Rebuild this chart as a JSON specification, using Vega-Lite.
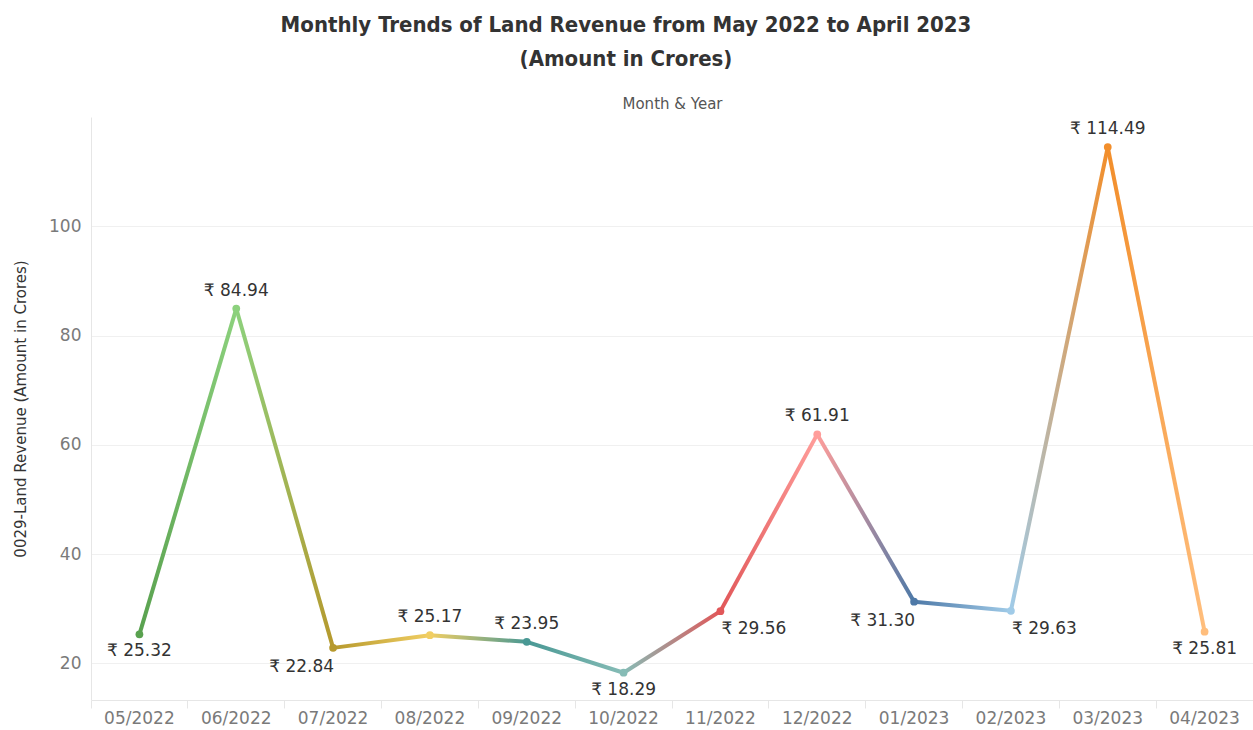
{
  "$schema": "https://vega.github.io/schema/vega-lite/v6.json",
  "width": 1162,
  "height": 583,
  "autosize": {"type": "none"},
  "padding": {"left": 91, "top": 117, "right": 0, "bottom": 30},
  "background": "white",
  "config": {"view": {"stroke": null}, "font": "DejaVu Sans"},
  "title": {
    "text": ["Monthly Trends of Land Revenue from May 2022 to April 2023", "(Amount in Crores)"],
    "font": "DejaVu Sans Condensed, Liberation Sans Narrow, Roboto",
    "fontWeight": "bold",
    "fontSize": 22,
    "lineHeight": 34,
    "color": "#333333",
    "anchor": "middle",
    "frame": "group",
    "dx": -46,
    "offset": 25
  },
  "data": {
    "values": [
      {"month": "05/2022", "value": 25.32},
      {"month": "06/2022", "value": 84.94},
      {"month": "07/2022", "value": 22.84},
      {"month": "08/2022", "value": 25.17},
      {"month": "09/2022", "value": 23.95},
      {"month": "10/2022", "value": 18.29},
      {"month": "11/2022", "value": 29.56},
      {"month": "12/2022", "value": 61.91},
      {"month": "01/2023", "value": 31.30},
      {"month": "02/2023", "value": 29.63},
      {"month": "03/2023", "value": 114.49},
      {"month": "04/2023", "value": 25.81}
    ]
  },
  "transform": [
    {"calculate": "'₹ ' + format(datum.value, '.2f')", "as": "label"}
  ],
  "encoding": {
    "x": {"field": "month", "type": "nominal", "sort": null,
      "scale": {"type": "band", "paddingInner": 0, "paddingOuter": 0}},
    "y": {"field": "value", "type": "quantitative",
      "scale": {"domain": [13.3, 120], "nice": false, "zero": false}}
  },
  "layer": [
    {"transform": [{"filter": {"field": "month", "oneOf": ["05/2022", "06/2022"]}}],
     "mark": {"type": "line", "strokeWidth": 4, "stroke": {"gradient": "linear", "x1": 0, "y1": 0, "x2": 1, "y2": 0, "stops": [{"offset": 0, "color": "#59a14f"}, {"offset": 1, "color": "#8cd17d"}]}},
     "encoding": {"x": {"field": "month", "type": "nominal", "sort": null, "axis": null}}},
    {"transform": [{"filter": {"field": "month", "oneOf": ["06/2022", "07/2022"]}}],
     "mark": {"type": "line", "strokeWidth": 4, "stroke": {"gradient": "linear", "x1": 0, "y1": 0, "x2": 1, "y2": 0, "stops": [{"offset": 0, "color": "#8cd17d"}, {"offset": 1, "color": "#b6992d"}]}},
     "encoding": {"x": {"field": "month", "type": "nominal", "sort": null, "axis": null}}},
    {"transform": [{"filter": {"field": "month", "oneOf": ["07/2022", "08/2022"]}}],
     "mark": {"type": "line", "strokeWidth": 4, "stroke": {"gradient": "linear", "x1": 0, "y1": 0, "x2": 1, "y2": 0, "stops": [{"offset": 0, "color": "#b6992d"}, {"offset": 1, "color": "#f1ce63"}]}},
     "encoding": {"x": {"field": "month", "type": "nominal", "sort": null, "axis": null}}},
    {"transform": [{"filter": {"field": "month", "oneOf": ["08/2022", "09/2022"]}}],
     "mark": {"type": "line", "strokeWidth": 4, "stroke": {"gradient": "linear", "x1": 0, "y1": 0, "x2": 1, "y2": 0, "stops": [{"offset": 0, "color": "#f1ce63"}, {"offset": 1, "color": "#499894"}]}},
     "encoding": {"x": {"field": "month", "type": "nominal", "sort": null, "axis": null}}},
    {"transform": [{"filter": {"field": "month", "oneOf": ["09/2022", "10/2022"]}}],
     "mark": {"type": "line", "strokeWidth": 4, "stroke": {"gradient": "linear", "x1": 0, "y1": 0, "x2": 1, "y2": 0, "stops": [{"offset": 0, "color": "#499894"}, {"offset": 1, "color": "#86bcb6"}]}},
     "encoding": {"x": {"field": "month", "type": "nominal", "sort": null, "axis": null}}},
    {"transform": [{"filter": {"field": "month", "oneOf": ["10/2022", "11/2022"]}}],
     "mark": {"type": "line", "strokeWidth": 4, "stroke": {"gradient": "linear", "x1": 0, "y1": 0, "x2": 1, "y2": 0, "stops": [{"offset": 0, "color": "#86bcb6"}, {"offset": 1, "color": "#e15759"}]}},
     "encoding": {"x": {"field": "month", "type": "nominal", "sort": null, "axis": null}}},
    {"transform": [{"filter": {"field": "month", "oneOf": ["11/2022", "12/2022"]}}],
     "mark": {"type": "line", "strokeWidth": 4, "stroke": {"gradient": "linear", "x1": 0, "y1": 0, "x2": 1, "y2": 0, "stops": [{"offset": 0, "color": "#e15759"}, {"offset": 1, "color": "#ff9d9a"}]}},
     "encoding": {"x": {"field": "month", "type": "nominal", "sort": null, "axis": null}}},
    {"transform": [{"filter": {"field": "month", "oneOf": ["12/2022", "01/2023"]}}],
     "mark": {"type": "line", "strokeWidth": 4, "stroke": {"gradient": "linear", "x1": 0, "y1": 0, "x2": 1, "y2": 0, "stops": [{"offset": 0, "color": "#ff9d9a"}, {"offset": 1, "color": "#4e79a7"}]}},
     "encoding": {"x": {"field": "month", "type": "nominal", "sort": null, "axis": null}}},
    {"transform": [{"filter": {"field": "month", "oneOf": ["01/2023", "02/2023"]}}],
     "mark": {"type": "line", "strokeWidth": 4, "stroke": {"gradient": "linear", "x1": 0, "y1": 0, "x2": 1, "y2": 0, "stops": [{"offset": 0, "color": "#4e79a7"}, {"offset": 1, "color": "#a0cbe8"}]}},
     "encoding": {"x": {"field": "month", "type": "nominal", "sort": null, "axis": null}}},
    {"transform": [{"filter": {"field": "month", "oneOf": ["02/2023", "03/2023"]}}],
     "mark": {"type": "line", "strokeWidth": 4, "stroke": {"gradient": "linear", "x1": 0, "y1": 0, "x2": 1, "y2": 0, "stops": [{"offset": 0, "color": "#a0cbe8"}, {"offset": 1, "color": "#f28e2b"}]}},
     "encoding": {"x": {"field": "month", "type": "nominal", "sort": null, "axis": null}}},
    {"transform": [{"filter": {"field": "month", "oneOf": ["03/2023", "04/2023"]}}],
     "mark": {"type": "line", "strokeWidth": 4, "stroke": {"gradient": "linear", "x1": 0, "y1": 0, "x2": 1, "y2": 0, "stops": [{"offset": 0, "color": "#f28e2b"}, {"offset": 1, "color": "#ffbe7d"}]}},
     "encoding": {"x": {"field": "month", "type": "nominal", "sort": null, "axis": null}}},
    {
      "mark": {"type": "point", "filled": true, "opacity": 1, "size": 60},
      "encoding": {
        "x": {"field": "month", "type": "nominal", "sort": null,
          "axis": {"orient": "bottom", "title": null, "labelAngle": 0, "bandPosition": 0,
            "ticks": true, "tickSize": 8, "tickColor": "#e6e6e6", "domainColor": "#e6e6e6",
            "labelFontSize": 17, "labelColor": "#7a7a7a", "labelPadding": 2, "labelFont": "DejaVu Sans", "grid": false}},
        "y": {"field": "value", "type": "quantitative",
          "axis": {"title": "0029-Land Revenue (Amount in Crores)", "titleFontSize": 15, "titleFontWeight": "normal",
            "titleColor": "#333333", "titleFont": "DejaVu Sans", "titlePadding": 20,
            "values": [20, 40, 60, 80, 100], "ticks": false, "labelPadding": 10,
            "labelFontSize": 17, "labelColor": "#7a7a7a", "labelFont": "DejaVu Sans",
            "domainColor": "#e6e6e6", "gridColor": "#f0f0f0", "grid": true}},
        "color": {"field": "month", "type": "nominal", "sort": null, "legend": null,
          "scale": {"range": ["#59a14f", "#8cd17d", "#b6992d", "#f1ce63", "#499894", "#86bcb6", "#e15759", "#ff9d9a", "#4e79a7", "#a0cbe8", "#f28e2b", "#ffbe7d"]}}
      }
    },
    {"transform": [{"filter": {"field": "month", "oneOf": ["06/2022", "08/2022", "09/2022", "12/2022", "03/2023"]}}],
     "mark": {"type": "text", "fontSize": 17, "color": "#333333", "baseline": "middle", "align": "center", "dy": -18},
     "encoding": {"text": {"field": "label"},
       "x": {"field": "month", "type": "nominal", "sort": null,
         "axis": {"orient": "top", "labels": false, "ticks": false, "domain": false, "grid": false,
           "title": "Month & Year", "titleFontSize": 15, "titleFontWeight": "normal", "titleColor": "#555555", "titlePadding": 6}}}},
    {"transform": [{"filter": {"field": "month", "oneOf": ["05/2022", "10/2022", "04/2023"]}}],
     "mark": {"type": "text", "fontSize": 17, "color": "#333333", "baseline": "middle", "align": "center", "dy": 17},
     "encoding": {"text": {"field": "label"}, "x": {"field": "month", "type": "nominal", "sort": null, "axis": null}}},
    {"transform": [{"filter": {"field": "month", "oneOf": ["07/2022", "01/2023"]}}],
     "mark": {"type": "text", "fontSize": 17, "color": "#333333", "baseline": "middle", "align": "right", "dx": 1, "dy": 19},
     "encoding": {"text": {"field": "label"}, "x": {"field": "month", "type": "nominal", "sort": null, "axis": null}}},
    {"transform": [{"filter": {"field": "month", "oneOf": ["11/2022", "02/2023"]}}],
     "mark": {"type": "text", "fontSize": 17, "color": "#333333", "baseline": "middle", "align": "left", "dx": 1, "dy": 18},
     "encoding": {"text": {"field": "label"}, "x": {"field": "month", "type": "nominal", "sort": null, "axis": null}}}
  ],
  "resolve": {"axis": {"x": "independent"}}
}
